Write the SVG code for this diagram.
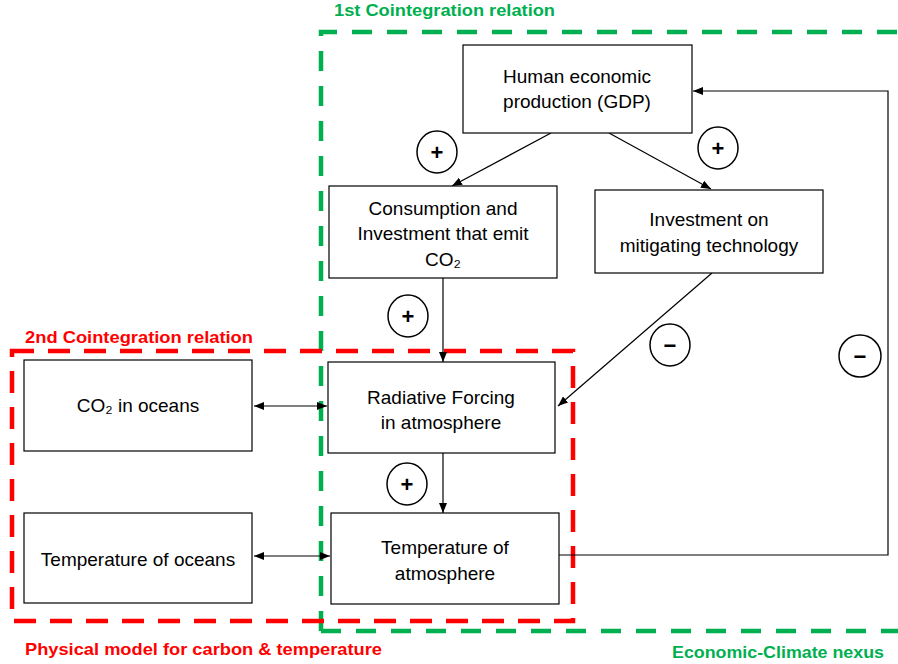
<svg xmlns="http://www.w3.org/2000/svg" width="898" height="664" viewBox="0 0 898 664">
<defs>
<style>
.box{fill:#fff;stroke:#000;stroke-width:1.2}
.t{font-family:"Liberation Sans",Arial,sans-serif;font-size:19px;fill:#000;text-anchor:middle}
.title{font-family:"Liberation Sans",Arial,sans-serif;font-size:16.5px;font-weight:bold}
.g{fill:none;stroke:#00B050;stroke-width:4.5;stroke-dasharray:20 15}
.r{fill:none;stroke:#FF0000;stroke-width:4.5;stroke-dasharray:22 14}
.c{fill:#fff;stroke:#000;stroke-width:1.5}
.sign{font-family:"Liberation Sans",Arial,sans-serif;font-size:22px;font-weight:bold;text-anchor:middle;fill:#000}
.ln{fill:none;stroke:#000;stroke-width:1.2}
</style>
<marker id="ah" viewBox="0 0 10 8" refX="10" refY="4" markerWidth="10" markerHeight="8" markerUnits="userSpaceOnUse" orient="auto-start-reverse">
<path d="M0,0 L10,4 L0,8 z" fill="#000"/>
</marker>
</defs>
<rect width="898" height="664" fill="#fff"/>

<g id="frames">
<path class="g" d="M321,631 L321,32 L898,32 M321,631 L898,631"/>
<path class="r" d="M12,351 L573,351 L573,621 L12,621 Z"/>
<text class="title" x="334" y="16" fill="#00B050" textLength="221" lengthAdjust="spacingAndGlyphs">1st Cointegration relation</text>
<text class="title" x="25" y="343" fill="#FF0000" textLength="228" lengthAdjust="spacingAndGlyphs">2nd Cointegration relation</text>
<text class="title" x="25" y="655" fill="#FF0000" textLength="357" lengthAdjust="spacingAndGlyphs">Physical model for carbon &amp; temperature</text>
<text class="title" x="672" y="658" fill="#00B050" textLength="212" lengthAdjust="spacingAndGlyphs">Economic-Climate nexus</text>
</g>

<g id="connectors">
<line class="ln" x1="551" y1="133" x2="452" y2="186" marker-end="url(#ah)"/>
<line class="ln" x1="609" y1="133" x2="711" y2="189" marker-end="url(#ah)"/>
<line class="ln" x1="443" y1="278" x2="443" y2="362" marker-end="url(#ah)"/>
<line class="ln" x1="712" y1="273" x2="558" y2="406" marker-end="url(#ah)"/>
<line class="ln" x1="443" y1="453" x2="443" y2="513" marker-end="url(#ah)"/>
<line class="ln" x1="254" y1="406" x2="327" y2="406" marker-start="url(#ah)" marker-end="url(#ah)"/>
<line class="ln" x1="254" y1="556" x2="330" y2="556" marker-start="url(#ah)" marker-end="url(#ah)"/>
<polyline class="ln" points="559,555 888,555 888,91 693,91" marker-end="url(#ah)"/>
</g>

<g id="gdp">
<rect class="box" x="463" y="45" width="229" height="88"/>
<text class="t" x="577" y="83">Human economic</text>
<text class="t" x="577" y="108">production (GDP)</text>
</g>
<g id="consumption">
<rect class="box" x="329" y="186" width="228" height="92"/>
<text class="t" x="443" y="215">Consumption and</text>
<text class="t" x="443" y="240">Investment that emit</text>
<text class="t" x="443" y="266">CO₂</text>
</g>
<g id="investment">
<rect class="box" x="595" y="190" width="228" height="83"/>
<text class="t" x="709" y="226">Investment on</text>
<text class="t" x="709" y="252">mitigating technology</text>
</g>
<g id="co2oceans">
<rect class="box" x="24" y="360" width="228" height="91"/>
<text class="t" x="138" y="412">CO₂ in oceans</text>
</g>
<g id="radiative">
<rect class="box" x="328" y="362" width="227" height="91"/>
<text class="t" x="441" y="404">Radiative Forcing</text>
<text class="t" x="441" y="429">in atmosphere</text>
</g>
<g id="tempoceans">
<rect class="box" x="24" y="513" width="228" height="90"/>
<text class="t" x="138" y="566">Temperature of oceans</text>
</g>
<g id="tempatm">
<rect class="box" x="331" y="513" width="228" height="91"/>
<text class="t" x="445" y="554">Temperature of</text>
<text class="t" x="445" y="580">atmosphere</text>
</g>

<g id="signs">
<ellipse class="c" cx="437" cy="152" rx="20" ry="21"/><text class="sign" x="437" y="160">+</text>
<ellipse class="c" cx="718" cy="148" rx="20" ry="21"/><text class="sign" x="718" y="156">+</text>
<ellipse class="c" cx="408" cy="316" rx="20" ry="21"/><text class="sign" x="408" y="324">+</text>
<ellipse class="c" cx="407" cy="484" rx="20" ry="21"/><text class="sign" x="407" y="492">+</text>
<ellipse class="c" cx="670" cy="345" rx="20" ry="21"/><text class="sign" x="670" y="353" font-size="26">−</text>
<ellipse class="c" cx="860" cy="356" rx="21" ry="21"/><text class="sign" x="860" y="364" font-size="26">−</text>
</g>
</svg>
